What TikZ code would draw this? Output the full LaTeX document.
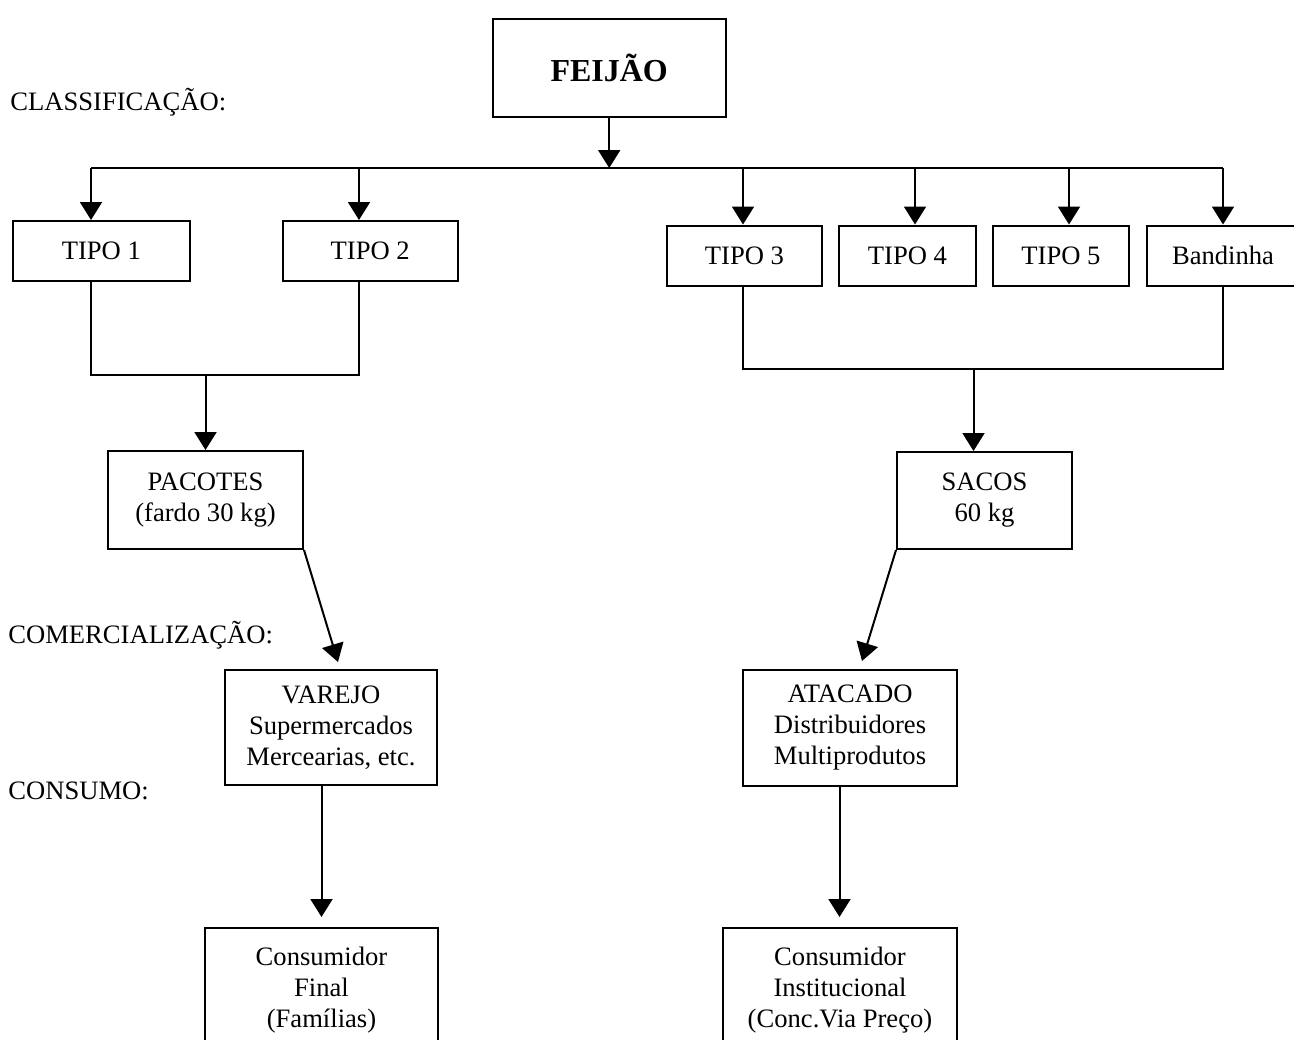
\documentclass[tikz,border=0pt]{standalone}
\usepackage{fontspec}
\setmainfont{Liberation Serif}
\usetikzlibrary{arrows.meta,calc}
\begin{document}
\begin{tikzpicture}[x=0.5pt,y=-0.5pt,
  every node/.style={inner sep=0pt, font=\fontsize{13.3}{15.5}\selectfont},
  bx/.style 2 args={draw, line width=1pt, align=center, minimum width={#1*0.5pt}, minimum height={#2*0.5pt}},
  ln/.style={line width=1pt},
  arr/.style={line width=1pt, -{Triangle[length=9pt,width=11pt]}},
  lbl/.style={anchor=base west}]
\useasboundingbox (0,0) rectangle (1294,1039);
\clip (0,0) rectangle (1294,1039);
% nodes
\node[bx={233}{98}, font=\fontsize{16}{19}\selectfont\bfseries] (fei) at (609.2,68.3) {FEIJÃO};
\node[bx={177.3}{60}] (t1) at (101.3,251) {TIPO 1};
\node[bx={175}{60}] (t2) at (370.2,251) {TIPO 2};
\node[bx={155}{60}] (t3) at (744.5,255.5) {TIPO 3};
\node[bx={137}{60}] (t4) at (907.5,255.5) {TIPO 4};
\node[bx={136}{60}] (t5) at (1061,255.5) {TIPO 5};
\node[bx={152}{60}] (band) at (1223,255.5) {Bandinha};
\node[bx={195}{98}] (pac) at (205.5,500) {PACOTES\\(fardo 30 kg)};
\node[bx={175}{97}] (sac) at (984.5,500.5) {SACOS\\60 kg};
\node[bx={212}{115}] (var) at (331,727.5) {VAREJO\\Supermercados\\Mercearias, etc.};
\node[bx={214}{116}] (ata) at (850,727.5) {ATACADO\\Distribuidores\\Multiprodutos};
\node[bx={233}{124}] (cf) at (321.5,990) {Consumidor\\Final\\(Famílias)};
\node[bx={234}{124}] (ci) at (840,990) {Consumidor\\Institucional\\(Conc.Via Preço)};
% labels
\node[lbl] (lcl) at (10,110) {CLASSIFICAÇÃO:};
\node[lbl] (lco) at (8,643) {COMERCIALIZAÇÃO:};
\node[lbl] (lcs) at (8,799) {CONSUMO:};
% coordinates
\coordinate (h1) at (91,168);
\coordinate (h2) at (359,168);
\coordinate (h3) at (743,168);
\coordinate (h4) at (915,168);
\coordinate (h5) at (1069,168);
\coordinate (h6) at (1223,168);
\coordinate (ml1) at (91,375);
\coordinate (ml2) at (359,375);
\coordinate (mls) at (205.5,375);
\coordinate (mr1) at (743,369);
\coordinate (mr2) at (1223,369);
\coordinate (mrs) at (973.5,369);
\coordinate (vtip) at (338,662);
\coordinate (atip) at (862,661);
\coordinate (cftip) at (321.5,917);
\coordinate (citip) at (839.5,917);
% connectors
\draw[arr] (fei.south) -- (fei.south |- h1);
\draw[ln] (h1) -- (h6);
\draw[arr] (h1) -- (h1 |- t1.north);
\draw[arr] (h2) -- (h2 |- t2.north);
\draw[arr] (h3) -- (h3 |- t3.north);
\draw[arr] (h4) -- (h4 |- t4.north);
\draw[arr] (h5) -- (h5 |- t5.north);
\draw[arr] (h6) -- (h6 |- band.north);
\draw[ln] (ml1 |- t1.south) -- (ml1) -- (ml2) -- (ml2 |- t2.south);
\draw[arr] (mls) -- (mls |- pac.north);
\draw[ln] (mr1 |- t3.south) -- (mr1) -- (mr2) -- (mr2 |- band.south);
\draw[arr] (mrs) -- (mrs |- sac.north);
\draw[arr] (pac.south east) -- (vtip);
\draw[arr] (sac.south west) -- (atip);
\draw[arr] (var.south -| cftip) -- (cftip);
\draw[arr] (ata.south -| citip) -- (citip);
\end{tikzpicture}
\end{document}
